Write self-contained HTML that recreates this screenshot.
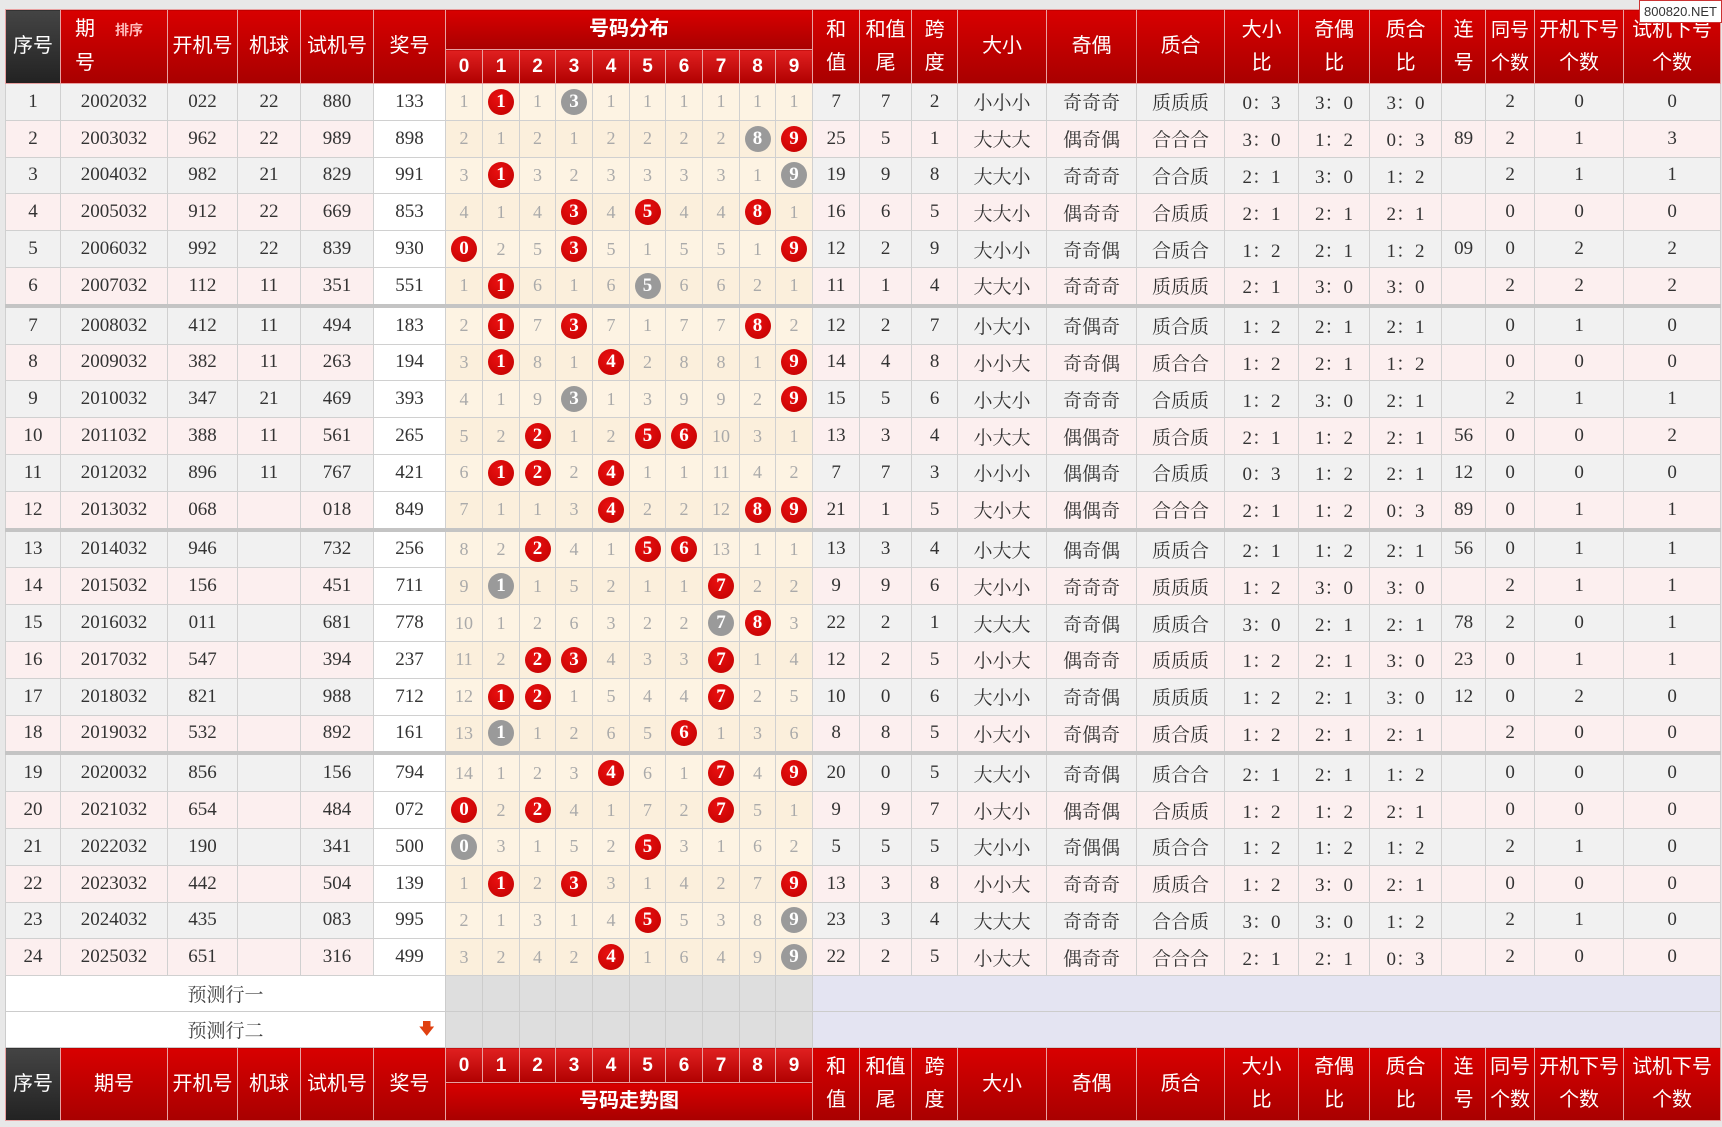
<!DOCTYPE html><html><head><meta charset="utf-8"><style>
body{margin:0;width:1722px;height:1127px;background:#e8e8e8;overflow:hidden;font-family:"Liberation Serif","Noto Serif CJK SC",serif;position:relative}
table{position:absolute;left:5px;top:9px;border-collapse:collapse;table-layout:fixed;width:1715px}
td,th{border:1px solid #d0d0d0;text-align:center;padding:0;font-size:19px;color:#333;font-weight:normal;overflow:hidden;white-space:nowrap}
th{background:linear-gradient(#d80000,#a80000);color:#fff;border:1px solid #e8a0a0;font-family:"Liberation Sans","Noto Sans CJK SC",sans-serif;font-size:20px;line-height:33px;white-space:normal}
th.k{background:linear-gradient(#444,#222)}
th.n{font-weight:bold;font-size:19px;background:linear-gradient(#e02020,#b00000)}
tr.b td{height:35.8px}
tr.o td{background:#f1f1f1}tr.e td{background:#fcefef}
tr.o td.d{background:#fdf3e3}tr.e td.d{background:#fbefdc}
td.w{background:#fff!important}
td.d{color:#aaa;font-size:18px}
tr.s td{border-bottom:4px solid #c4c4c4}
i{display:inline-block;width:26px;height:26px;border-radius:50%;color:#fff;font-style:normal;font-weight:bold;line-height:26px;font-size:19px;vertical-align:middle}
i.r{background:radial-gradient(circle at 40% 35%,#e81010,#c00000)}i.g{background:#9a9a9a}
tr.p td{height:35px;background:#dedede;border-color:#ccc}
tr.p td.l{background:#fff;color:#444;font-family:"Liberation Serif","Noto Serif CJK SC",serif}
tr.p td.v{background:#e4e4f2}
.wm{position:absolute;right:0;top:0;background:#fff;border:1px solid #c33;font:13px "Liberation Sans",sans-serif;padding:3px 4px;color:#333;z-index:2}
</style></head><body>
<div class="wm">800820.NET</div>
<table>
<colgroup><col style="width:55px"><col style="width:107px"><col style="width:70px"><col style="width:63px"><col style="width:73px"><col style="width:72px"><col style="width:37px"><col style="width:37px"><col style="width:36px"><col style="width:37px"><col style="width:37px"><col style="width:36px"><col style="width:37px"><col style="width:37px"><col style="width:36px"><col style="width:37px"><col style="width:47px"><col style="width:52px"><col style="width:46px"><col style="width:89px"><col style="width:90px"><col style="width:88px"><col style="width:74px"><col style="width:71px"><col style="width:72px"><col style="width:44px"><col style="width:49px"><col style="width:89px"><col style="width:97px"></colgroup>
<tr style="height:40px"><th class="k" rowspan="2">序号</th><th rowspan="2" style="text-align:left;padding-left:14px">期<span style="font-size:14px;font-weight:bold;color:#fbb;margin-left:20px">排序</span><br>号</th><th rowspan="2">开机号</th><th rowspan="2">机球</th><th rowspan="2">试机号</th><th rowspan="2">奖号</th><th colspan="10" style="font-weight:bold">号码分布</th><th rowspan="2">和<br>值</th><th rowspan="2">和值<br>尾</th><th rowspan="2">跨<br>度</th><th rowspan="2">大小</th><th rowspan="2">奇偶</th><th rowspan="2">质合</th><th rowspan="2">大小<br>比</th><th rowspan="2">奇偶<br>比</th><th rowspan="2">质合<br>比</th><th rowspan="2">连<br>号</th><th rowspan="2" style="font-size:19px">同号<br>个数</th><th rowspan="2">开机下号<br>个数</th><th rowspan="2">试机下号<br>个数</th></tr>
<tr style="height:33px"><th class="n">0</th><th class="n">1</th><th class="n">2</th><th class="n">3</th><th class="n">4</th><th class="n">5</th><th class="n">6</th><th class="n">7</th><th class="n">8</th><th class="n">9</th></tr>
<tr class="b o"><td>1</td><td>2002032</td><td>022</td><td>22</td><td>880</td><td class="w">133</td><td class="d">1</td><td class="d"><i class="r">1</i></td><td class="d">1</td><td class="d"><i class="g">3</i></td><td class="d">1</td><td class="d">1</td><td class="d">1</td><td class="d">1</td><td class="d">1</td><td class="d">1</td><td>7</td><td>7</td><td>2</td><td>小小小</td><td>奇奇奇</td><td>质质质</td><td>0：3</td><td>3：0</td><td>3：0</td><td></td><td>2</td><td>0</td><td>0</td></tr>
<tr class="b e"><td>2</td><td>2003032</td><td>962</td><td>22</td><td>989</td><td class="w">898</td><td class="d">2</td><td class="d">1</td><td class="d">2</td><td class="d">1</td><td class="d">2</td><td class="d">2</td><td class="d">2</td><td class="d">2</td><td class="d"><i class="g">8</i></td><td class="d"><i class="r">9</i></td><td>25</td><td>5</td><td>1</td><td>大大大</td><td>偶奇偶</td><td>合合合</td><td>3：0</td><td>1：2</td><td>0：3</td><td>89</td><td>2</td><td>1</td><td>3</td></tr>
<tr class="b o"><td>3</td><td>2004032</td><td>982</td><td>21</td><td>829</td><td class="w">991</td><td class="d">3</td><td class="d"><i class="r">1</i></td><td class="d">3</td><td class="d">2</td><td class="d">3</td><td class="d">3</td><td class="d">3</td><td class="d">3</td><td class="d">1</td><td class="d"><i class="g">9</i></td><td>19</td><td>9</td><td>8</td><td>大大小</td><td>奇奇奇</td><td>合合质</td><td>2：1</td><td>3：0</td><td>1：2</td><td></td><td>2</td><td>1</td><td>1</td></tr>
<tr class="b e"><td>4</td><td>2005032</td><td>912</td><td>22</td><td>669</td><td class="w">853</td><td class="d">4</td><td class="d">1</td><td class="d">4</td><td class="d"><i class="r">3</i></td><td class="d">4</td><td class="d"><i class="r">5</i></td><td class="d">4</td><td class="d">4</td><td class="d"><i class="r">8</i></td><td class="d">1</td><td>16</td><td>6</td><td>5</td><td>大大小</td><td>偶奇奇</td><td>合质质</td><td>2：1</td><td>2：1</td><td>2：1</td><td></td><td>0</td><td>0</td><td>0</td></tr>
<tr class="b o"><td>5</td><td>2006032</td><td>992</td><td>22</td><td>839</td><td class="w">930</td><td class="d"><i class="r">0</i></td><td class="d">2</td><td class="d">5</td><td class="d"><i class="r">3</i></td><td class="d">5</td><td class="d">1</td><td class="d">5</td><td class="d">5</td><td class="d">1</td><td class="d"><i class="r">9</i></td><td>12</td><td>2</td><td>9</td><td>大小小</td><td>奇奇偶</td><td>合质合</td><td>1：2</td><td>2：1</td><td>1：2</td><td>09</td><td>0</td><td>2</td><td>2</td></tr>
<tr class="b e s"><td>6</td><td>2007032</td><td>112</td><td>11</td><td>351</td><td class="w">551</td><td class="d">1</td><td class="d"><i class="r">1</i></td><td class="d">6</td><td class="d">1</td><td class="d">6</td><td class="d"><i class="g">5</i></td><td class="d">6</td><td class="d">6</td><td class="d">2</td><td class="d">1</td><td>11</td><td>1</td><td>4</td><td>大大小</td><td>奇奇奇</td><td>质质质</td><td>2：1</td><td>3：0</td><td>3：0</td><td></td><td>2</td><td>2</td><td>2</td></tr>
<tr class="b o"><td>7</td><td>2008032</td><td>412</td><td>11</td><td>494</td><td class="w">183</td><td class="d">2</td><td class="d"><i class="r">1</i></td><td class="d">7</td><td class="d"><i class="r">3</i></td><td class="d">7</td><td class="d">1</td><td class="d">7</td><td class="d">7</td><td class="d"><i class="r">8</i></td><td class="d">2</td><td>12</td><td>2</td><td>7</td><td>小大小</td><td>奇偶奇</td><td>质合质</td><td>1：2</td><td>2：1</td><td>2：1</td><td></td><td>0</td><td>1</td><td>0</td></tr>
<tr class="b e"><td>8</td><td>2009032</td><td>382</td><td>11</td><td>263</td><td class="w">194</td><td class="d">3</td><td class="d"><i class="r">1</i></td><td class="d">8</td><td class="d">1</td><td class="d"><i class="r">4</i></td><td class="d">2</td><td class="d">8</td><td class="d">8</td><td class="d">1</td><td class="d"><i class="r">9</i></td><td>14</td><td>4</td><td>8</td><td>小小大</td><td>奇奇偶</td><td>质合合</td><td>1：2</td><td>2：1</td><td>1：2</td><td></td><td>0</td><td>0</td><td>0</td></tr>
<tr class="b o"><td>9</td><td>2010032</td><td>347</td><td>21</td><td>469</td><td class="w">393</td><td class="d">4</td><td class="d">1</td><td class="d">9</td><td class="d"><i class="g">3</i></td><td class="d">1</td><td class="d">3</td><td class="d">9</td><td class="d">9</td><td class="d">2</td><td class="d"><i class="r">9</i></td><td>15</td><td>5</td><td>6</td><td>小大小</td><td>奇奇奇</td><td>合质质</td><td>1：2</td><td>3：0</td><td>2：1</td><td></td><td>2</td><td>1</td><td>1</td></tr>
<tr class="b e"><td>10</td><td>2011032</td><td>388</td><td>11</td><td>561</td><td class="w">265</td><td class="d">5</td><td class="d">2</td><td class="d"><i class="r">2</i></td><td class="d">1</td><td class="d">2</td><td class="d"><i class="r">5</i></td><td class="d"><i class="r">6</i></td><td class="d">10</td><td class="d">3</td><td class="d">1</td><td>13</td><td>3</td><td>4</td><td>小大大</td><td>偶偶奇</td><td>质合质</td><td>2：1</td><td>1：2</td><td>2：1</td><td>56</td><td>0</td><td>0</td><td>2</td></tr>
<tr class="b o"><td>11</td><td>2012032</td><td>896</td><td>11</td><td>767</td><td class="w">421</td><td class="d">6</td><td class="d"><i class="r">1</i></td><td class="d"><i class="r">2</i></td><td class="d">2</td><td class="d"><i class="r">4</i></td><td class="d">1</td><td class="d">1</td><td class="d">11</td><td class="d">4</td><td class="d">2</td><td>7</td><td>7</td><td>3</td><td>小小小</td><td>偶偶奇</td><td>合质质</td><td>0：3</td><td>1：2</td><td>2：1</td><td>12</td><td>0</td><td>0</td><td>0</td></tr>
<tr class="b e s"><td>12</td><td>2013032</td><td>068</td><td></td><td>018</td><td class="w">849</td><td class="d">7</td><td class="d">1</td><td class="d">1</td><td class="d">3</td><td class="d"><i class="r">4</i></td><td class="d">2</td><td class="d">2</td><td class="d">12</td><td class="d"><i class="r">8</i></td><td class="d"><i class="r">9</i></td><td>21</td><td>1</td><td>5</td><td>大小大</td><td>偶偶奇</td><td>合合合</td><td>2：1</td><td>1：2</td><td>0：3</td><td>89</td><td>0</td><td>1</td><td>1</td></tr>
<tr class="b o"><td>13</td><td>2014032</td><td>946</td><td></td><td>732</td><td class="w">256</td><td class="d">8</td><td class="d">2</td><td class="d"><i class="r">2</i></td><td class="d">4</td><td class="d">1</td><td class="d"><i class="r">5</i></td><td class="d"><i class="r">6</i></td><td class="d">13</td><td class="d">1</td><td class="d">1</td><td>13</td><td>3</td><td>4</td><td>小大大</td><td>偶奇偶</td><td>质质合</td><td>2：1</td><td>1：2</td><td>2：1</td><td>56</td><td>0</td><td>1</td><td>1</td></tr>
<tr class="b e"><td>14</td><td>2015032</td><td>156</td><td></td><td>451</td><td class="w">711</td><td class="d">9</td><td class="d"><i class="g">1</i></td><td class="d">1</td><td class="d">5</td><td class="d">2</td><td class="d">1</td><td class="d">1</td><td class="d"><i class="r">7</i></td><td class="d">2</td><td class="d">2</td><td>9</td><td>9</td><td>6</td><td>大小小</td><td>奇奇奇</td><td>质质质</td><td>1：2</td><td>3：0</td><td>3：0</td><td></td><td>2</td><td>1</td><td>1</td></tr>
<tr class="b o"><td>15</td><td>2016032</td><td>011</td><td></td><td>681</td><td class="w">778</td><td class="d">10</td><td class="d">1</td><td class="d">2</td><td class="d">6</td><td class="d">3</td><td class="d">2</td><td class="d">2</td><td class="d"><i class="g">7</i></td><td class="d"><i class="r">8</i></td><td class="d">3</td><td>22</td><td>2</td><td>1</td><td>大大大</td><td>奇奇偶</td><td>质质合</td><td>3：0</td><td>2：1</td><td>2：1</td><td>78</td><td>2</td><td>0</td><td>1</td></tr>
<tr class="b e"><td>16</td><td>2017032</td><td>547</td><td></td><td>394</td><td class="w">237</td><td class="d">11</td><td class="d">2</td><td class="d"><i class="r">2</i></td><td class="d"><i class="r">3</i></td><td class="d">4</td><td class="d">3</td><td class="d">3</td><td class="d"><i class="r">7</i></td><td class="d">1</td><td class="d">4</td><td>12</td><td>2</td><td>5</td><td>小小大</td><td>偶奇奇</td><td>质质质</td><td>1：2</td><td>2：1</td><td>3：0</td><td>23</td><td>0</td><td>1</td><td>1</td></tr>
<tr class="b o"><td>17</td><td>2018032</td><td>821</td><td></td><td>988</td><td class="w">712</td><td class="d">12</td><td class="d"><i class="r">1</i></td><td class="d"><i class="r">2</i></td><td class="d">1</td><td class="d">5</td><td class="d">4</td><td class="d">4</td><td class="d"><i class="r">7</i></td><td class="d">2</td><td class="d">5</td><td>10</td><td>0</td><td>6</td><td>大小小</td><td>奇奇偶</td><td>质质质</td><td>1：2</td><td>2：1</td><td>3：0</td><td>12</td><td>0</td><td>2</td><td>0</td></tr>
<tr class="b e s"><td>18</td><td>2019032</td><td>532</td><td></td><td>892</td><td class="w">161</td><td class="d">13</td><td class="d"><i class="g">1</i></td><td class="d">1</td><td class="d">2</td><td class="d">6</td><td class="d">5</td><td class="d"><i class="r">6</i></td><td class="d">1</td><td class="d">3</td><td class="d">6</td><td>8</td><td>8</td><td>5</td><td>小大小</td><td>奇偶奇</td><td>质合质</td><td>1：2</td><td>2：1</td><td>2：1</td><td></td><td>2</td><td>0</td><td>0</td></tr>
<tr class="b o"><td>19</td><td>2020032</td><td>856</td><td></td><td>156</td><td class="w">794</td><td class="d">14</td><td class="d">1</td><td class="d">2</td><td class="d">3</td><td class="d"><i class="r">4</i></td><td class="d">6</td><td class="d">1</td><td class="d"><i class="r">7</i></td><td class="d">4</td><td class="d"><i class="r">9</i></td><td>20</td><td>0</td><td>5</td><td>大大小</td><td>奇奇偶</td><td>质合合</td><td>2：1</td><td>2：1</td><td>1：2</td><td></td><td>0</td><td>0</td><td>0</td></tr>
<tr class="b e"><td>20</td><td>2021032</td><td>654</td><td></td><td>484</td><td class="w">072</td><td class="d"><i class="r">0</i></td><td class="d">2</td><td class="d"><i class="r">2</i></td><td class="d">4</td><td class="d">1</td><td class="d">7</td><td class="d">2</td><td class="d"><i class="r">7</i></td><td class="d">5</td><td class="d">1</td><td>9</td><td>9</td><td>7</td><td>小大小</td><td>偶奇偶</td><td>合质质</td><td>1：2</td><td>1：2</td><td>2：1</td><td></td><td>0</td><td>0</td><td>0</td></tr>
<tr class="b o"><td>21</td><td>2022032</td><td>190</td><td></td><td>341</td><td class="w">500</td><td class="d"><i class="g">0</i></td><td class="d">3</td><td class="d">1</td><td class="d">5</td><td class="d">2</td><td class="d"><i class="r">5</i></td><td class="d">3</td><td class="d">1</td><td class="d">6</td><td class="d">2</td><td>5</td><td>5</td><td>5</td><td>大小小</td><td>奇偶偶</td><td>质合合</td><td>1：2</td><td>1：2</td><td>1：2</td><td></td><td>2</td><td>1</td><td>0</td></tr>
<tr class="b e"><td>22</td><td>2023032</td><td>442</td><td></td><td>504</td><td class="w">139</td><td class="d">1</td><td class="d"><i class="r">1</i></td><td class="d">2</td><td class="d"><i class="r">3</i></td><td class="d">3</td><td class="d">1</td><td class="d">4</td><td class="d">2</td><td class="d">7</td><td class="d"><i class="r">9</i></td><td>13</td><td>3</td><td>8</td><td>小小大</td><td>奇奇奇</td><td>质质合</td><td>1：2</td><td>3：0</td><td>2：1</td><td></td><td>0</td><td>0</td><td>0</td></tr>
<tr class="b o"><td>23</td><td>2024032</td><td>435</td><td></td><td>083</td><td class="w">995</td><td class="d">2</td><td class="d">1</td><td class="d">3</td><td class="d">1</td><td class="d">4</td><td class="d"><i class="r">5</i></td><td class="d">5</td><td class="d">3</td><td class="d">8</td><td class="d"><i class="g">9</i></td><td>23</td><td>3</td><td>4</td><td>大大大</td><td>奇奇奇</td><td>合合质</td><td>3：0</td><td>3：0</td><td>1：2</td><td></td><td>2</td><td>1</td><td>0</td></tr>
<tr class="b e"><td>24</td><td>2025032</td><td>651</td><td></td><td>316</td><td class="w">499</td><td class="d">3</td><td class="d">2</td><td class="d">4</td><td class="d">2</td><td class="d"><i class="r">4</i></td><td class="d">1</td><td class="d">6</td><td class="d">4</td><td class="d">9</td><td class="d"><i class="g">9</i></td><td>22</td><td>2</td><td>5</td><td>小大大</td><td>偶奇奇</td><td>合合合</td><td>2：1</td><td>2：1</td><td>0：3</td><td></td><td>2</td><td>0</td><td>0</td></tr>
<tr class="p"><td class="l" colspan="6">预测行一</td><td></td><td></td><td></td><td></td><td></td><td></td><td></td><td></td><td></td><td></td><td class="v" colspan="13"></td></tr>
<tr class="p"><td class="l" colspan="6" style="position:relative">预测行二<span style="position:absolute;right:10px;top:6px;color:#e04010;font-size:16px">🡇</span></td><td></td><td></td><td></td><td></td><td></td><td></td><td></td><td></td><td></td><td></td><td class="v" colspan="13"></td></tr>
<tr style="height:35px"><th class="k" rowspan="2">序号</th><th rowspan="2">期号</th><th rowspan="2">开机号</th><th rowspan="2">机球</th><th rowspan="2">试机号</th><th rowspan="2">奖号</th><th class="n">0</th><th class="n">1</th><th class="n">2</th><th class="n">3</th><th class="n">4</th><th class="n">5</th><th class="n">6</th><th class="n">7</th><th class="n">8</th><th class="n">9</th><th rowspan="2">和<br>值</th><th rowspan="2">和值<br>尾</th><th rowspan="2">跨<br>度</th><th rowspan="2">大小</th><th rowspan="2">奇偶</th><th rowspan="2">质合</th><th rowspan="2">大小<br>比</th><th rowspan="2">奇偶<br>比</th><th rowspan="2">质合<br>比</th><th rowspan="2">连<br>号</th><th rowspan="2">同号<br>个数</th><th rowspan="2">开机下号<br>个数</th><th rowspan="2">试机下号<br>个数</th></tr>
<tr style="height:38px"><th colspan="10" style="font-weight:bold">号码走势图</th></tr>
</table>
</body></html>
